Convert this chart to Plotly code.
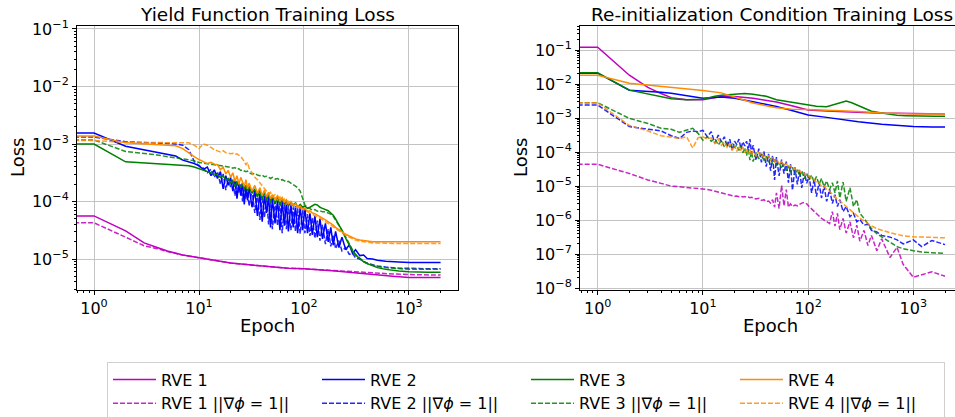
import plotly.graph_objects as go

# ---------------- data (losses stored as log10 values) ----------------
EPOCH_SMOOTH = [0, 1, 2, 3, 4, 5, 7, 10, 15, 20, 30, 50, 70, 100, 150, 200, 300, 500, 700, 1000, 1500, 2000]
EPOCH_MED = [0, 1, 2, 3, 4, 5, 7, 10, 13, 15, 20, 25, 30, 40, 50, 60, 70, 85, 100, 120, 150, 170, 200,
             230, 260, 300, 350, 400, 500, 600, 700, 850, 1000, 1300, 1600, 2000]
EPOCH_NOISY = [0, 1, 2, 3, 4, 5, 6, 7, 8, 9, 10,
               11, 12, 13, 14, 15, 16, 17, 18, 19, 20,
               21, 22, 23, 24, 25, 26, 27, 28, 29, 30,
               32, 34, 36, 38, 40, 42, 44, 46, 48, 50,
               53, 56, 59, 62, 65, 68, 71, 75, 79, 83, 87, 92,
               97, 102, 108, 114, 120, 127, 134, 142, 150,
               160, 170, 180, 190, 200, 215, 230, 250, 270, 290, 310,
               340, 370, 400, 450, 500, 600, 700, 800, 1000, 1200, 1500, 2000]

# Yield function training loss (left panel)
yf_rve1 = [-4.25, -4.25, -4.51, -4.72, -4.80, -4.86, -4.93, -4.98, -5.04, -5.07, -5.10, -5.14, -5.16, -5.17,
           -5.19, -5.21, -5.24, -5.28, -5.30, -5.32, -5.32, -5.32]
yf_rve1_eik = [-4.37, -4.37, -4.62, -4.77, -4.82, -4.87, -4.93, -4.98, -5.04, -5.07, -5.10, -5.14, -5.16, -5.17,
               -5.19, -5.21, -5.23, -5.25, -5.26, -5.27, -5.28, -5.28]
yf_rve2 = [-2.81, -2.81, -3.04, -3.10, -3.14, -3.18, -3.21, -3.28, -3.31, -3.34, -3.38,
           -3.44, -3.40, -3.55, -3.45, -3.60, -3.48, -3.78, -3.55, -3.72, -3.58,
           -3.82, -3.62, -3.95, -3.66, -3.90, -3.68, -4.05, -3.72, -3.98, -3.75,
           -4.10, -3.80, -4.25, -3.86, -4.35, -3.90, -4.20, -3.92, -4.45, -3.95,
           -4.38, -3.98, -4.50, -4.00, -4.42, -4.02, -4.52, -4.05, -4.45, -4.08, -4.55, -4.10,
           -4.50, -4.12, -4.55, -4.20, -4.58, -4.25, -4.62, -4.30, -4.65,
           -4.38, -4.70, -4.45, -4.76, -4.52, -4.80, -4.62, -4.84, -4.75, -4.90, -4.84,
           -4.94, -4.93, -4.99, -5.00, -5.02, -5.04, -5.05, -5.05, -5.06, -5.06, -5.06, -5.06]
yf_rve2_eik = [-2.88, -2.88, -2.96, -2.97, -2.98, -2.99, -3.00, -3.02, -3.10, -3.30, -3.38,
               -3.42, -3.50, -3.44, -3.58, -3.48, -3.70, -3.52, -3.80, -3.60, -3.75,
               -3.62, -3.90, -3.65, -3.85, -3.70, -4.00, -3.72, -3.95, -3.76, -4.08,
               -3.80, -4.20, -3.86, -4.32, -3.90, -4.28, -3.93, -4.40, -3.96, -4.48,
               -4.00, -4.42, -4.02, -4.55, -4.05, -4.48, -4.08, -4.50, -4.10, -4.52, -4.12, -4.56,
               -4.15, -4.55, -4.22, -4.60, -4.28, -4.64, -4.33, -4.68, -4.40,
               -4.74, -4.48, -4.78, -4.58, -4.82, -4.68, -4.86, -4.80, -4.92, -4.90, -4.98,
               -5.00, -5.04, -5.07, -5.10, -5.12, -5.14, -5.15, -5.16, -5.16, -5.17, -5.17, -5.17]
yf_rve3 = [-3.00, -3.00, -3.31, -3.33, -3.35, -3.36, -3.37, -3.37, -3.38, -3.40, -3.43,
           -3.46, -3.48, -3.50, -3.52, -3.54, -3.58, -3.56, -3.62, -3.60, -3.68,
           -3.64, -3.74, -3.66, -3.70, -3.76, -3.68, -3.80, -3.72, -3.82, -3.74,
           -3.86, -3.78, -3.92, -3.80, -3.96, -3.84, -3.98, -3.86, -4.02, -3.90,
           -4.04, -3.92, -4.06, -3.95, -4.05, -3.98, -4.08, -4.00, -4.08, -4.02, -4.10, -4.05,
           -4.10, -4.08, -4.12, -4.10, -4.08, -4.05, -4.06, -4.10, -4.12,
           -4.14, -4.16, -4.20, -4.24, -4.30, -4.40, -4.50, -4.64, -4.76, -4.86, -4.93,
           -5.00, -5.05, -5.08, -5.12, -5.15, -5.18, -5.20, -5.21, -5.22, -5.23, -5.23, -5.23]
yf_rve3_eik = [-2.93, -2.93, -3.13, -3.16, -3.19, -3.22, -3.24, -3.26, -3.27, -3.29, -3.32,
               -3.33, -3.34, -3.35, -3.36, -3.36, -3.37, -3.38, -3.39, -3.40, -3.40,
               -3.42, -3.41, -3.44, -3.43, -3.46, -3.45, -3.47, -3.48, -3.47, -3.50,
               -3.52, -3.51, -3.54, -3.55, -3.54, -3.57, -3.56, -3.58, -3.60, -3.58,
               -3.61, -3.60, -3.63, -3.62, -3.64, -3.66, -3.65, -3.68, -3.70, -3.72, -3.76, -3.82,
               -3.95, -4.06, -4.10, -4.12, -4.15, -4.14, -4.17, -4.16, -4.18,
               -4.18, -4.20, -4.22, -4.26, -4.32, -4.40, -4.50, -4.62, -4.74, -4.84, -4.92,
               -4.99, -5.04, -5.08, -5.11, -5.13, -5.15, -5.16, -5.17, -5.18, -5.18, -5.18, -5.18]
yf_rve4 = [-2.86, -2.86, -2.98, -3.00, -3.01, -3.02, -3.03, -3.08, -3.16, -3.22, -3.27,
           -3.30, -3.34, -3.32, -3.35, -3.36, -3.45, -3.40, -3.52, -3.46, -3.58,
           -3.50, -3.65, -3.55, -3.70, -3.58, -3.66, -3.74, -3.62, -3.78, -3.68,
           -3.82, -3.72, -3.86, -3.76, -3.90, -3.80, -3.92, -3.84, -3.95, -3.88,
           -3.96, -3.90, -3.98, -3.93, -4.02, -3.97, -4.04, -4.00, -4.07, -4.04, -4.10, -4.08,
           -4.13, -4.12, -4.17, -4.16, -4.20, -4.21, -4.24, -4.26, -4.29,
           -4.32, -4.35, -4.38, -4.41, -4.45, -4.49, -4.53, -4.57, -4.60, -4.63, -4.65,
           -4.67, -4.68, -4.69, -4.70, -4.70, -4.70, -4.70, -4.70, -4.70, -4.70, -4.70, -4.70]
yf_rve4_eik = [-2.94, -2.94, -2.97, -2.97, -2.98, -2.98, -2.98, -2.97, -2.98, -3.02, -3.08,
               -3.00, -3.02, -3.06, -3.10, -3.12, -3.14, -3.12, -3.15, -3.16, -3.17,
               -3.16, -3.18, -3.17, -3.19, -3.22, -3.26, -3.30, -3.36, -3.32, -3.42,
               -3.50, -3.58, -3.62, -3.68, -3.72, -3.78, -3.82, -3.86, -3.84, -3.92,
               -3.88, -3.98, -3.92, -4.00, -3.96, -4.04, -4.00, -4.06, -4.04, -4.10, -4.07, -4.12,
               -4.13, -4.15, -4.18, -4.20, -4.22, -4.24, -4.27, -4.29, -4.32,
               -4.35, -4.38, -4.41, -4.44, -4.47, -4.51, -4.55, -4.59, -4.62, -4.65, -4.67,
               -4.69, -4.70, -4.71, -4.72, -4.72, -4.73, -4.73, -4.73, -4.73, -4.73, -4.73, -4.73]

# Re-initialization condition training loss (right panel)
ri_rve1 = [-0.92, -0.92, -1.74, -2.10, -2.28, -2.40, -2.46, -2.46, -2.37, -2.37, -2.42, -2.53, -2.64, -2.76,
           -2.79, -2.81, -2.84, -2.86, -2.86, -2.87, -2.88, -2.88]
ri_rve2 = [-1.68, -1.68, -2.18, -2.21, -2.24, -2.27, -2.35, -2.42, -2.38, -2.42, -2.52, -2.66, -2.78, -2.91,
           -2.98, -3.04, -3.11, -3.18, -3.22, -3.25, -3.26, -3.26]
ri_rve3 = [-1.67, -1.67, -2.18, -2.30, -2.38, -2.43, -2.46, -2.45, -2.36, -2.33, -2.30, -2.28, -2.30, -2.36,
           -2.46, -2.50, -2.55, -2.58, -2.62, -2.65, -2.67, -2.62, -2.54, -2.50, -2.55, -2.63, -2.72, -2.80,
           -2.85, -2.90, -2.92, -2.93, -2.94, -2.95, -2.95, -2.95]
ri_rve4 = [-1.74, -1.74, -1.98, -2.03, -2.07, -2.10, -2.15, -2.19, -2.26, -2.38, -2.56, -2.70, -2.74, -2.75,
           -2.77, -2.78, -2.81, -2.85, -2.87, -2.88, -2.88, -2.88]
ri_rve1_eik = [-4.36, -4.36, -4.63, -4.82, -4.92, -5.00, -5.02, -5.04, -5.05, -5.06, -5.07,
               -5.10, -5.12, -5.15, -5.18, -5.20, -5.22, -5.24, -5.26, -5.28, -5.30,
               -5.29, -5.31, -5.30, -5.32, -5.31, -5.33, -5.32, -5.34, -5.33, -5.35,
               -5.38, -5.36, -5.42, -5.40, -5.46, -5.44, -5.50, -5.40, -5.62, -5.20,
               -5.66, -4.98, -5.58, -5.10, -5.62, -5.52, -5.60, -5.56, -5.58, -5.54, -5.50, -5.48,
               -5.52, -5.60, -5.68, -5.75, -5.82, -5.88, -5.95, -6.00, -6.05,
               -6.10, -5.75, -6.18, -5.80, -6.28, -5.95, -6.38, -6.05, -6.52, -6.15, -6.62,
               -6.30, -6.75, -6.45, -6.90, -6.55, -7.10, -6.80, -7.30, -7.68, -7.60, -7.52, -7.65]
ri_rve2_eik = [-2.62, -2.62, -3.25, -3.32, -3.38, -3.52, -3.60, -3.42, -3.38, -3.40, -3.36,
               -3.55, -3.40, -3.74, -3.50, -3.70, -3.55, -3.85, -3.62, -3.95, -3.68,
               -3.78, -3.62, -3.90, -3.70, -3.82, -3.68, -3.95, -3.62, -4.05, -3.80,
               -4.24, -3.90, -4.30, -3.98, -4.43, -4.05, -4.55, -4.10, -4.82, -4.15,
               -4.70, -4.22, -4.63, -4.28, -4.90, -4.35, -5.12, -4.45, -4.95, -4.52, -5.05, -4.60,
               -4.92, -4.70, -5.20, -4.80, -5.31, -4.90, -5.35, -5.00, -5.45,
               -5.10, -5.51, -5.25, -5.60, -5.40, -5.75, -5.60, -5.90, -5.80, -6.05, -5.98,
               -6.15, -6.12, -6.30, -6.35, -6.45, -6.50, -6.58, -6.70, -6.58, -6.78, -6.60, -6.72]
ri_rve3_eik = [-2.55, -2.55, -3.01, -3.16, -3.30, -3.33, -3.42, -3.36, -3.30, -3.45, -3.65,
               -3.55, -3.68, -3.60, -3.79, -3.66, -3.85, -3.72, -3.84, -3.76, -3.86,
               -3.80, -3.95, -3.82, -4.02, -3.88, -4.10, -3.92, -4.24, -3.98, -4.28,
               -4.02, -4.20, -4.05, -4.25, -4.12, -4.30, -4.18, -4.35, -4.22, -4.40,
               -4.30, -4.48, -4.35, -4.55, -4.40, -4.60, -4.45, -4.65, -4.50, -4.72, -4.55, -4.78,
               -4.62, -4.82, -4.68, -4.88, -4.72, -4.95, -4.78, -5.02, -4.85,
               -5.10, -4.90, -5.20, -4.85, -5.35, -4.88, -5.45, -5.05, -5.60, -5.40, -5.80,
               -5.95, -6.10, -6.25, -6.40, -6.50, -6.65, -6.78, -6.84, -6.90, -6.94, -6.96, -6.98]
ri_rve4_eik = [-2.55, -2.55, -3.22, -3.38, -3.52, -3.56, -3.60, -3.55, -3.88, -3.58, -3.55,
               -3.62, -3.58, -3.75, -3.62, -3.80, -3.70, -3.86, -3.75, -3.95, -3.80,
               -3.98, -3.82, -3.96, -3.85, -4.02, -3.90, -4.05, -3.92, -4.08, -3.96,
               -4.12, -4.00, -4.16, -4.05, -4.22, -4.10, -4.25, -4.15, -4.30, -4.20,
               -4.34, -4.28, -4.40, -4.34, -4.45, -4.40, -4.52, -4.48, -4.58, -4.55, -4.64, -4.62,
               -4.72, -4.70, -4.80, -4.80, -4.90, -4.90, -5.00, -5.00, -5.10,
               -5.15, -5.25, -5.30, -5.38, -5.45, -5.52, -5.60, -5.70, -5.80, -5.88, -5.94,
               -6.02, -6.10, -6.17, -6.25, -6.30, -6.37, -6.42, -6.46, -6.49, -6.50, -6.51, -6.52]

LABELS = ["RVE 1", "RVE 2", "RVE 3", "RVE 4"]
EIK_SUFFIX = " ||\u2207<i>\u03d5</i> = 1||"
COLORS = ["#bf00bf", "#0000ff", "#008000", "#ff8c00"]

LEFT = [(EPOCH_SMOOTH, yf_rve1, EPOCH_SMOOTH, yf_rve1_eik),
        (EPOCH_NOISY, yf_rve2, EPOCH_NOISY, yf_rve2_eik),
        (EPOCH_NOISY, yf_rve3, EPOCH_NOISY, yf_rve3_eik),
        (EPOCH_NOISY, yf_rve4, EPOCH_NOISY, yf_rve4_eik)]
RIGHT = [(EPOCH_SMOOTH, ri_rve1, EPOCH_NOISY, ri_rve1_eik),
         (EPOCH_SMOOTH, ri_rve2, EPOCH_NOISY, ri_rve2_eik),
         (EPOCH_MED, ri_rve3, EPOCH_NOISY, ri_rve3_eik),
         (EPOCH_SMOOTH, ri_rve4, EPOCH_NOISY, ri_rve4_eik)]

for grp in (LEFT, RIGHT):
    for ex, ys, ex2, ys2 in grp:
        assert len(ex) == len(ys) and len(ex2) == len(ys2)

FONT = "DejaVu Sans"


def xs(epochs):
    # epoch 0 cannot sit on a log axis; like matplotlib it is clipped off the left edge
    return [e if e > 0 else 0.3 for e in epochs]


def ys_(logs):
    return [10 ** v for v in logs]


fig = go.Figure()
for panel, (xa, ya) in ((LEFT, ("x", "y")), (RIGHT, ("x2", "y2"))):
    for i, (ex, ysol, ex2, ydash) in enumerate(panel):
        fig.add_trace(go.Scatter(x=xs(ex), y=ys_(ysol), mode="lines", name=LABELS[i],
                                 line=dict(color=COLORS[i], width=1.5),
                                 xaxis=xa, yaxis=ya, showlegend=(xa == "x"), legendrank=i + 1))
        fig.add_trace(go.Scatter(x=xs(ex2), y=ys_(ydash), mode="lines", name=LABELS[i] + EIK_SUFFIX,
                                 line=dict(color=COLORS[i], width=1.5, dash="5px,2px"), opacity=0.85,
                                 xaxis=xa, yaxis=ya, showlegend=(xa == "x"), legendrank=i + 5))


def pw(n):
    return "10<sup>" + (str(n) if n >= 0 else "\u2212" + str(-n)) + "</sup>"


def minor_vals(lo, hi):
    return [k * 10.0 ** n for n in range(lo, hi) for k in range(2, 10)]


def axis_common():
    return dict(type="log", showline=True, linecolor="black", linewidth=1, mirror=True,
                ticks="outside", ticklen=4, tickwidth=1, tickcolor="black", automargin=False,
                showgrid=True, gridcolor="#c4c4c4", gridwidth=1, zeroline=False,
                tickfont=dict(family=FONT, size=16, color="black"))


X_MAJOR = [1, 10, 100, 1000]
xa1 = axis_common()
xa1.update(domain=[77 / 955, 458 / 955], range=[-0.162, 3.467], anchor="y",
           tickvals=X_MAJOR, ticktext=[pw(n) for n in range(4)],
           minor=dict(tickvals=minor_vals(-1, 4), ticks="outside", ticklen=2, tickcolor="black", showgrid=False))
xa2 = axis_common()
xa2.update(domain=[580 / 955, 1.0], range=[-0.168, 3.396], anchor="y2",
           tickvals=X_MAJOR, ticktext=[pw(n) for n in range(4)],
           minor=dict(tickvals=minor_vals(-1, 4), ticks="outside", ticklen=2, tickcolor="black", showgrid=False))

ya1 = axis_common()
ya1.update(domain=[(417 - 289.5) / 417, (417 - 26) / 417], range=[-5.53, -0.948], anchor="x",
           tickvals=[10.0 ** n for n in range(-5, 0)], ticktext=[pw(n) for n in range(-5, 0)],
           minor=dict(tickvals=minor_vals(-6, 0), ticks="outside", ticklen=2, tickcolor="black", showgrid=False))
ya2 = axis_common()
ya2.update(domain=[(417 - 289.5) / 417, (417 - 26) / 417], range=[-8.04, -0.294], anchor="x2", mirror=False,
           tickvals=[10.0 ** n for n in range(-8, 0)], ticktext=[pw(n) for n in range(-8, 0)],
           minor=dict(tickvals=minor_vals(-9, 0), ticks="outside", ticklen=2, tickcolor="black", showgrid=False))

annotations = [
    dict(text="Yield Function Training Loss", x=267.5 / 955, y=(417 - 14) / 417, size=18.5),
    dict(text="Re-initialization Condition Training Loss", x=771.5 / 955, y=(417 - 14) / 417, size=18.5),
    dict(text="Epoch", x=267.5 / 955, y=(417 - 325) / 417, size=18),
    dict(text="Epoch", x=770 / 955, y=(417 - 325) / 417, size=18),
    dict(text="Loss", x=17 / 955, y=(417 - 158) / 417, textangle=-90, size=18),
    dict(text="Loss", x=520 / 955, y=(417 - 158) / 417, textangle=-90, size=18),
]
for a in annotations:
    sz = a.pop("size")
    a.update(xref="paper", yref="paper", showarrow=False, xanchor="center", yanchor="middle",
             font=dict(family=FONT, size=sz, color="black"))

fig.update_layout(
    width=955, height=417, margin=dict(l=0, r=0, t=0, b=0, autoexpand=False),
    paper_bgcolor="white", plot_bgcolor="white",
    xaxis=xa1, yaxis=ya1, xaxis2=xa2, yaxis2=ya2,
    annotations=annotations,
    legend=dict(orientation="h", x=107 / 955, y=(417 - 361.5) / 417, xanchor="left", yanchor="top",
                itemwidth=43, entrywidth=151, entrywidthmode="pixels", bordercolor="#d0d0d0", borderwidth=1,
                bgcolor="white", font=dict(family=FONT, size=16, color="black"), traceorder="normal"),
    font=dict(family=FONT),
)

fig.write_html("out.html")
